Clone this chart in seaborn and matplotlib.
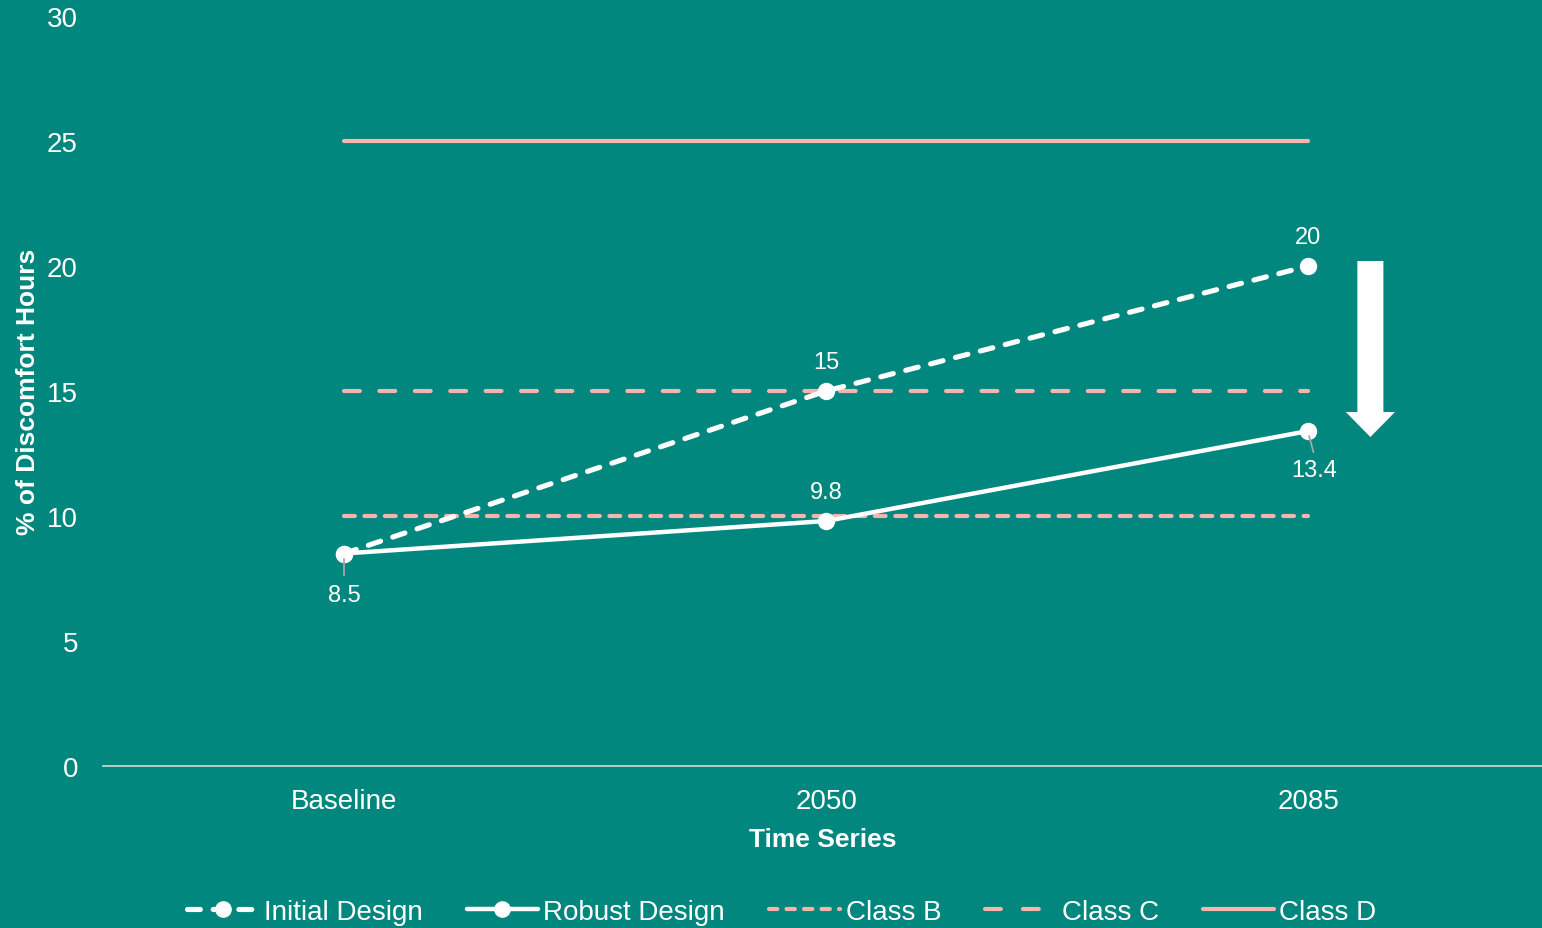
import matplotlib
matplotlib.use("Agg")
import matplotlib.pyplot as plt
from matplotlib.patches import FancyArrow
from matplotlib.lines import Line2D
import seaborn as sns
import numpy as np

# Data
periods = ["Baseline", "2050", "2085"]
initial_design = [8.5, 15.0, 20.0]
robust_design = [8.5, 9.8, 13.4]
class_b = [10, 10, 10]
class_c = [15, 15, 15]
class_d = [25, 25, 25]
y_ticks = [0, 5, 10, 15, 20, 25, 30]

BG = "#02877E"
PINK = "#F7B3AD"
WHITE = "#FFFFFF"

# line styles
DASH_INITIAL = (0, (2.5, 2.5))
DASH_B = (0, (2.6, 2.3))
DASH_C = (0, (3.8, 4.7))

sns.set_theme(style="white")
plt.rcParams["font.family"] = ["Liberation Sans", "DejaVu Sans"]

fig = plt.figure(figsize=(15.42, 9.29), dpi=100, facecolor=BG)
ax = fig.add_axes([103 / 1542, 162 / 929, 1 - 103 / 1542, 750 / 929])
ax.set_facecolor(BG)

x = np.arange(len(periods))

# Comfort class thresholds
sns.lineplot(x=x, y=class_b, ax=ax, color=PINK, lw=3.0,
             linestyle=DASH_B, dash_capstyle="round", zorder=2)
sns.lineplot(x=x, y=class_c, ax=ax, color=PINK, lw=3.0,
             linestyle=DASH_C, dash_capstyle="round", zorder=2)
sns.lineplot(x=x, y=class_d, ax=ax, color=PINK, lw=3.0,
             solid_capstyle="round", zorder=2)

# Design scenarios
sns.lineplot(x=x, y=initial_design, ax=ax, color=WHITE, lw=3.7,
             linestyle=DASH_INITIAL, dash_capstyle="round",
             marker="o", markersize=12.5, markeredgewidth=0, zorder=4)
sns.lineplot(x=x, y=robust_design, ax=ax, color=WHITE, lw=3.2,
             marker="o", markersize=12.5, markeredgewidth=0, zorder=4)

# Value labels
lab_kw = dict(color=WHITE, fontsize=17, ha="center", va="center", zorder=6)
ax.text(x[2], initial_design[2] + 1.17, f"{initial_design[2]:g}", **lab_kw)
ax.text(x[1], initial_design[1] + 1.17, f"{initial_design[1]:g}", **lab_kw)
ax.text(x[1], robust_design[1] + 1.17, f"{robust_design[1]:g}", **lab_kw)
ax.text(x[0], robust_design[0] - 1.64, f"{robust_design[0]:g}", **lab_kw)
ax.text(x[2] + 0.012, robust_design[2] - 1.55, f"{robust_design[2]:g}", **lab_kw)
# leader lines
ax.plot([x[0], x[0]], [robust_design[0] - 0.2, robust_design[0] - 0.85],
        color="#A6A6A6", lw=1.3, zorder=5)
ax.plot([x[2] + 0.002, x[2] + 0.011], [robust_design[2] - 0.2, robust_design[2] - 0.85],
        color="#A6A6A6", lw=1.3, zorder=5)

# Improvement arrow
ax.add_patch(FancyArrow(2.129, 20.2, 0, -(20.2 - 13.16), width=0.054,
                        head_width=0.102, head_length=1.0,
                        length_includes_head=True, color=WHITE, lw=0, zorder=5))

ax.set_xlim(-0.5, 2.485)
ax.set_ylim(0, 30)
ax.set_yticks(y_ticks)
ax.set_xticks(x)
ax.set_xticklabels(periods)
ax.tick_params(axis="both", colors=WHITE, labelsize=20, length=0)
ax.tick_params(axis="x", pad=16)
ax.tick_params(axis="y", pad=18)

for s in ["top", "right", "left"]:
    ax.spines[s].set_visible(False)
ax.spines["bottom"].set_color("#D9D9D9")
ax.spines["bottom"].set_linewidth(1.2)

ax.set_xlabel("Time Series", color=WHITE, fontsize=19, fontweight="bold", labelpad=9)
ax.set_ylabel("% of Discomfort Hours", color=WHITE, fontsize=19, fontweight="bold")
ax.yaxis.set_label_coords(-0.044, 0.5)

handles = [
    Line2D([], [], color=WHITE, lw=3.7, linestyle=DASH_INITIAL, marker="o",
           markersize=12, markeredgewidth=0, dash_capstyle="round"),
    Line2D([], [], color=WHITE, lw=3.2, marker="o", markersize=12, markeredgewidth=0),
    Line2D([], [], color=PINK, lw=3.0, linestyle=(0, (2.0, 2.2)), dash_capstyle="round"),
    Line2D([], [], color=PINK, lw=3.0, linestyle=(0, (3.8, 5.3)), dash_capstyle="round"),
    Line2D([], [], color=PINK, lw=3.0, solid_capstyle="round"),
]
labels = ["Initial Design", "Robust Design", "Class B", "Class C", "Class D"]
leg = fig.legend(handles, labels, loc="center", bbox_to_anchor=(782 / 1542, 1 - 913 / 929),
                 ncol=5, frameon=False, fontsize=20, handlelength=2.56,
                 handletextpad=0.2, columnspacing=1.58, labelcolor=WHITE)

fig.savefig("out.png", dpi=100, facecolor=BG)
